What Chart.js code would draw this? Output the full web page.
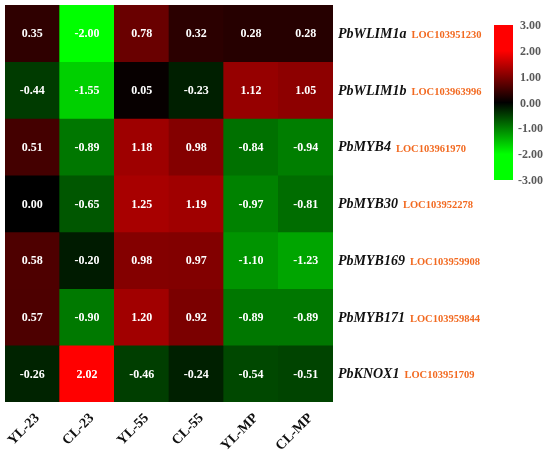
<!DOCTYPE html>
<html>
<head>
<meta charset="utf-8">
<script src="https://cdn.jsdelivr.net/npm/chart.js@4.4.1/dist/chart.umd.min.js"></script>
<style>
  html, body { margin: 0; padding: 0; background: #fff; }
  #wrap { width: 550px; height: 452px; position: relative; }
</style>
</head>
<body>
<div id="wrap"><canvas id="heat"></canvas></div>
<script>
const samples = ["YL-23", "CL-23", "YL-55", "CL-55", "YL-MP", "CL-MP"];
const genes = ["PbWLIM1a", "PbWLIM1b", "PbMYB4", "PbMYB30", "PbMYB169", "PbMYB171", "PbKNOX1"];
const locIds = ["LOC103951230", "LOC103963996", "LOC103961970", "LOC103952278", "LOC103959908", "LOC103959844", "LOC103951709"];

const wlim1a = [0.35, -2.00, 0.78, 0.32, 0.28, 0.28];
const wlim1b = [-0.44, -1.55, 0.05, -0.23, 1.12, 1.05];
const myb4 = [0.51, -0.89, 1.18, 0.98, -0.84, -0.94];
const myb30 = [0.00, -0.65, 1.25, 1.19, -0.97, -0.81];
const myb169 = [0.58, -0.20, 0.98, 0.97, -1.10, -1.23];
const myb171 = [0.57, -0.90, 1.20, 0.92, -0.89, -0.89];
const knox1 = [-0.26, 2.02, -0.46, -0.24, -0.54, -0.51];
const rows = [wlim1a, wlim1b, myb4, myb30, myb169, myb171, knox1];

const scaleTicks = ["3.00", "2.00", "1.00", "0.00", "-1.00", "-2.00", "-3.00"];

const serif = "'Liberation Serif', 'DejaVu Serif', serif";

function cellColor(v) {
  const c = Math.round(Math.min(1, Math.abs(v) / 1.9) * 255);
  return v >= 0 ? `rgb(${c},0,0)` : `rgb(0,${c},0)`;
}

const datasets = rows.map((vals, r) => ({
  label: genes[r],
  data: vals.map(() => [r, r + 1]),
  values: vals,
  backgroundColor: vals.map(cellColor),
  borderWidth: 0,
  barPercentage: 1,
  categoryPercentage: 1,
  grouped: false,
}));

// cell numbers, gene names and colour key
const heatLabels = {
  id: "heatLabels",
  afterDatasetsDraw(chart) {
    const ctx = chart.ctx;
    ctx.save();
    ctx.fillStyle = "#fff";
    ctx.font = "bold 12px " + serif;
    ctx.textAlign = "center";
    ctx.textBaseline = "middle";
    chart.data.datasets.forEach((ds, i) => {
      chart.getDatasetMeta(i).data.forEach((el, j) => {
        const p = el.getCenterPoint();
        ctx.fillText(ds.values[j].toFixed(2), p.x, p.y + 1);
      });
    });
    ctx.restore();
  },
  afterDraw(chart) {
    const ctx = chart.ctx;
    const area = chart.chartArea;
    ctx.save();
    ctx.textBaseline = "middle";
    ctx.textAlign = "left";
    chart.data.datasets.forEach((ds, i) => {
      const y = chart.getDatasetMeta(i).data[0].getCenterPoint().y;
      const x0 = area.right + 5;
      ctx.font = "italic bold 14px " + serif;
      ctx.fillStyle = "#111";
      ctx.fillText(genes[i], x0, y + 1);
      const w = ctx.measureText(genes[i]).width;
      ctx.font = "bold 10.5px " + serif;
      ctx.fillStyle = "#f26a21";
      ctx.fillText(locIds[i], x0 + w + 5, y + 2);
    });

    // colour key
    const bx = 494, by = 25, bw = 19, bh = 155;
    const g = ctx.createLinearGradient(0, by, 0, by + bh);
    g.addColorStop(0, "rgb(255,0,0)");
    g.addColorStop(1 / 6, "rgb(255,0,0)");
    g.addColorStop(0.5, "rgb(0,0,0)");
    g.addColorStop(5 / 6, "rgb(0,255,0)");
    g.addColorStop(1, "rgb(0,255,0)");
    ctx.fillStyle = g;
    ctx.fillRect(bx, by, bw, bh);
    ctx.font = "bold 12px " + serif;
    ctx.fillStyle = "#5a5a5a";
    scaleTicks.forEach((t, k) => {
      const ty = by + k * bh / (scaleTicks.length - 1);
      const tx = t.startsWith("-") ? 518 : 520;
      ctx.fillText(t, tx, ty + 1);
    });
    ctx.restore();
  }
};

new Chart(document.getElementById("heat"), {
  type: "bar",
  data: { labels: samples, datasets: datasets },
  options: {
    responsive: true,
    maintainAspectRatio: false,
    animation: false,
    layout: { padding: { left: 5, top: 5, right: 217, bottom: 0 } },
    plugins: { legend: { display: false }, tooltip: { enabled: false } },
    scales: {
      x: {
        grid: { display: false },
        border: { display: false },
        ticks: {
          color: "#111",
          font: { family: serif, weight: "bold", size: 14 },
          minRotation: 45,
          maxRotation: 45,
          padding: 0,
          labelOffset: 5,
        },
        afterFit(scale) { scale.height = 50; },
      },
      y: {
        display: false,
        reverse: true,
        min: 0,
        max: rows.length,
      },
    },
  },
  plugins: [heatLabels],
});
</script>
</body>
</html>
